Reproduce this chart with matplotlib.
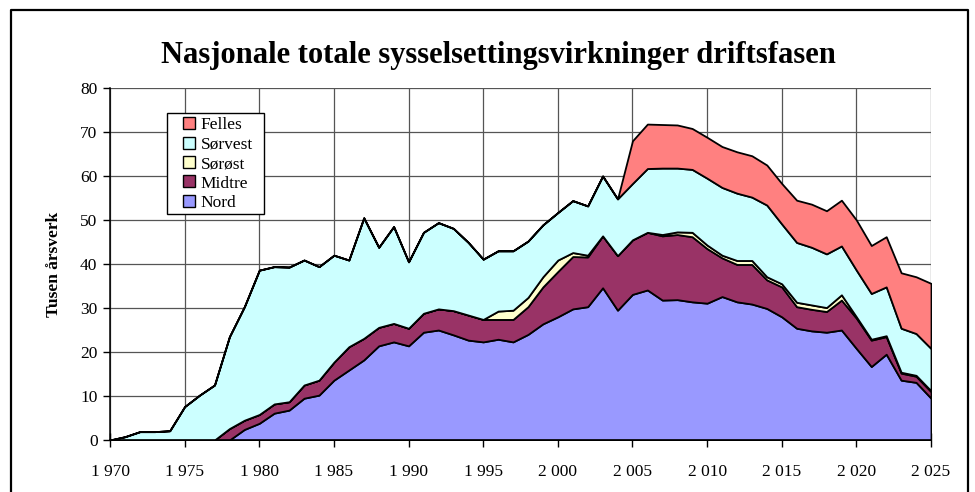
import matplotlib
matplotlib.use("Agg")
import matplotlib.pyplot as plt
from matplotlib.patches import Rectangle
from matplotlib.lines import Line2D

plt.rcParams['font.family'] = ['Liberation Serif', 'DejaVu Serif']

years = list(range(1970, 2026))

nord = [0, 0, 0, 0, 0, 0, 0, 0, 0, 2.4,
        3.8, 6.1, 6.8, 9.5, 10.2, 13.6, 15.9, 18.2, 21.4, 22.3,
        21.4, 24.5, 25.0, 23.9, 22.7, 22.3, 22.9, 22.3, 24.0, 26.4,
        28.0, 29.8, 30.3, 34.6, 29.5, 33.1, 34.1, 31.8, 31.9, 31.4,
        31.1, 32.6, 31.4, 30.9, 29.9, 28.0, 25.4, 24.8, 24.5, 25.0,
        20.8, 16.7, 19.5, 13.6, 13.1, 9.5]

midtre = [0, 0, 0, 0, 0, 0, 0, 0, 2.6, 2.1,
          2.0, 2.1, 1.9, 3.0, 3.4, 4.1, 5.3, 4.9, 4.2, 4.2,
          4.0, 4.3, 4.8, 5.5, 5.7, 5.1, 4.5, 5.1, 6.3, 8.4,
          10.3, 11.9, 11.3, 11.8, 12.4, 12.4, 13.1, 14.6, 14.8, 14.8,
          12.4, 8.8, 8.5, 9.0, 6.5, 6.8, 4.9, 4.9, 4.7, 6.8,
          6.9, 6.0, 4.0, 1.6, 1.4, 1.5]

sorost = [0, 0, 0, 0, 0, 0, 0, 0, 0, 0,
          0, 0, 0, 0, 0, 0, 0, 0, 0, 0,
          0, 0, 0, 0, 0, 0, 1.9, 2.1, 2.1, 2.3,
          2.6, 0.9, 0.4, 0, 0, 0, 0, 0.3, 0.6, 1.0,
          0.8, 0.6, 0.9, 0.9, 0.7, 0.7, 1.0, 1.0, 0.9, 1.2,
          0.3, 0.2, 0.2, 0.2, 0.2, 0.2]

sorvest = [0, 0.75, 1.9, 1.9, 2.1, 7.6, 10.2, 12.5, 20.9, 25.8,
           32.8, 31.2, 30.6, 28.4, 25.8, 24.3, 19.7, 27.4, 18.2, 22.0,
           15.1, 18.4, 19.6, 18.7, 16.5, 13.7, 13.7, 13.5, 12.8, 11.8,
           10.8, 11.8, 11.2, 13.6, 12.9, 12.8, 14.5, 15.1, 14.5, 14.3,
           15.2, 15.4, 15.3, 14.4, 16.3, 13.6, 13.6, 13.1, 12.2, 11.1,
           10.6, 10.4, 11.1, 10.0, 9.5, 9.6]

felles = [0, 0, 0, 0, 0, 0, 0, 0, 0, 0,
          0, 0, 0, 0, 0, 0, 0, 0, 0, 0,
          0, 0, 0, 0, 0, 0, 0, 0, 0, 0,
          0, 0, 0, 0, 0, 9.7, 10.1, 9.9, 9.8, 9.3,
          9.3, 9.3, 9.4, 9.4, 9.1, 9.2, 9.6, 9.8, 9.8, 10.4,
          11.4, 10.9, 11.4, 12.6, 12.9, 14.8]

series_names = ['Nord', 'Midtre', 'Sørøst', 'Sørvest', 'Felles']
series_colors = ['#9999FF', '#993366', '#FFFFCC', '#CCFFFF', '#FF8080']

xtick_values = list(range(1970, 2026, 5))
xtick_labels = ['1 970', '1 975', '1 980', '1 985', '1 990', '1 995', '2 000',
                '2 005', '2 010', '2 015', '2 020', '2 025']
ytick_values = list(range(0, 81, 10))

title = 'Nasjonale totale sysselsettingsvirkninger driftsfasen'
ylabel = 'Tusen årsverk'

W, H = 975, 492
fig = plt.figure(figsize=(W/100, H/100), dpi=100)
ax = fig.add_axes([110/W, 1-440/H, (931-110)/W, (440-88)/H])

ax.set_axisbelow(True)
ax.grid(True, color='#555555', linewidth=0.9)

ax.stackplot(years, nord, midtre, sorost, sorvest, felles,
             colors=series_colors, edgecolor='black', linewidth=1.3, zorder=2)

ax.set_xlim(1970, 2025)
ax.set_ylim(0, 80)
ax.set_xticks(xtick_values)
ax.set_xticklabels(xtick_labels)
ax.set_yticks(ytick_values)
ax.tick_params(axis='x', direction='inout', length=10, width=1, labelsize=12.5, pad=12)
ax.tick_params(axis='y', direction='out', length=5, width=1, labelsize=12.5, pad=4)

for s in ['top', 'right']:
    ax.spines[s].set_visible(False)
for s in ['left', 'bottom']:
    ax.spines[s].set_linewidth(1.1)
    ax.spines[s].set_zorder(3)

ax.set_ylabel(ylabel, fontsize=12.5, fontweight='bold')
ax.yaxis.set_label_coords((62-110)/821, 0.5)
fig.text(498.5/W, 1-55.5/H, title, ha='center', va='center', fontsize=22, fontweight='bold')

# legend
handles = [Line2D([], [], linestyle='none', marker='s', markersize=8.8,
                  markerfacecolor=c, markeredgecolor='black', markeredgewidth=1.0)
           for c in series_colors][::-1]
leg = ax.legend(handles, series_names[::-1], loc='upper left',
                bbox_to_anchor=(174/W, 1-117/H), bbox_transform=fig.transFigure,
                borderaxespad=0, borderpad=0, fontsize=12.5, frameon=False,
                handlelength=1.72, handletextpad=-0.2, labelspacing=0.19)
leg.set_zorder(6)
ax.add_patch(Rectangle((167/W, 1-214/H), (264-167)/W, (214-113)/H,
                       transform=fig.transFigure, facecolor='white',
                       edgecolor='black', linewidth=1.0, zorder=5, clip_on=False))

# outer border (left, top, right)
bx0, bx1, by0 = 11/W, 968/W, 1-10/H
fig.add_artist(Line2D([bx0, bx0, bx1, bx1], [0, by0, by0, 0],
                      transform=fig.transFigure, color='black', linewidth=1.6))

fig.savefig('out.png', dpi=100)
